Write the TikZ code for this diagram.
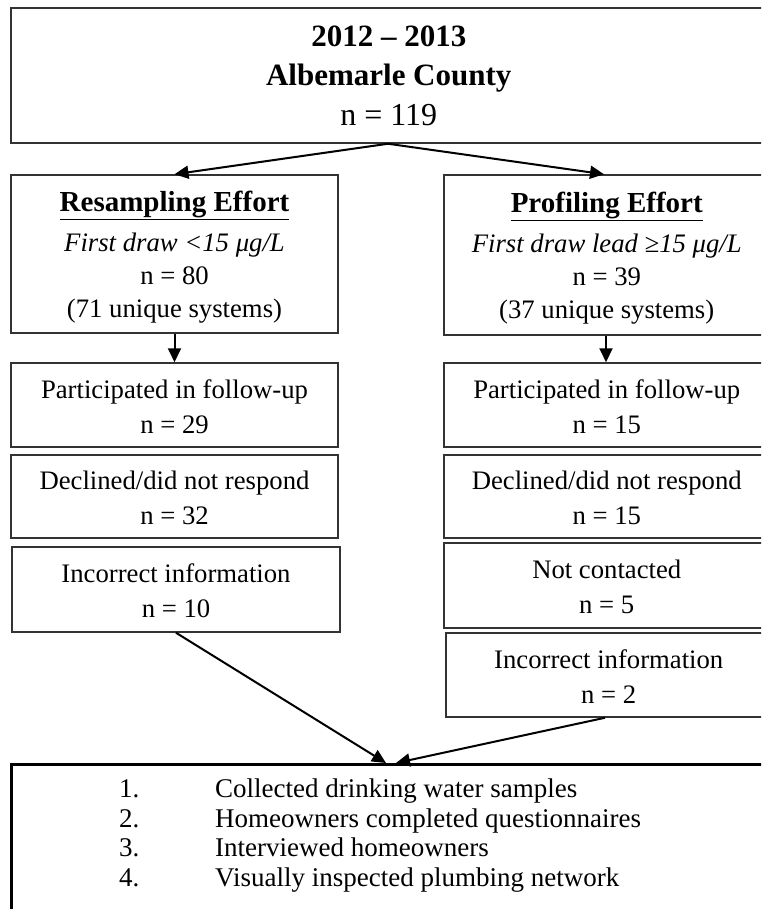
\documentclass[tikz,border=0pt]{standalone}
\usepackage{fontspec}
\setmainfont{Liberation Serif}
\usetikzlibrary{arrows.meta}
\begin{document}
\begin{tikzpicture}[x=1pt,y=-1pt,
  box/.style={draw=black!80,line width=1.5pt,align=center,inner sep=0pt,
    font=\fontsize{26.7}{35}\selectfont},
  rbox/.style={draw=black!80,line width=1.5pt,inner sep=0pt,anchor=west,
    minimum width=400pt,font=\fontsize{26.7}{35}\selectfont},
  arr/.style={line width=2pt,-{Triangle[length=14pt,width=13pt]}}]
\useasboundingbox (0,0) rectangle (761,909);
\clip (0,0) rectangle (761,909);
\fill[white] (0,0) rectangle (761,909);
% top box (runs past the right edge)
\node[rbox,minimum width=800pt,minimum height=135pt,font=\fontsize{31}{39.5}\selectfont] (top) at (10,75.5)
  {\parbox{756pt}{\centering\bfseries 2012 – 2013\\ Albemarle County\\ \mdseries\fontsize{32}{39.5}\selectfont n = 119}\hspace*{44pt}};
% effort boxes
\node[box,minimum width=327pt,minimum height=158pt,font=\fontsize{26.7}{33}\selectfont] (rs) at (174.5,254)
  {\rule{0pt}{26pt}{\fontsize{29}{33}\selectfont\bfseries\underline{Resampling Effort}}\\[7pt]
   \itshape First draw <15 μg/L\\ n = 80\\ (71 unique systems)};
\node[rbox,minimum height=160pt,font=\fontsize{26.7}{33}\selectfont] (pf) at (443,255)
  {\parbox{326pt}{\centering\rule{0pt}{26pt}{\fontsize{29}{33}\selectfont\bfseries\underline{Profiling Effort}}\\[7pt]
   {\itshape First draw lead ≥15 μg/L}\\ n = 39\\ (37 unique systems)}\hspace*{74pt}};
% left column
\node[box,minimum width=327pt,minimum height=84pt] (lp) at (174.5,405)
  {\rule{0pt}{22pt}Participated in follow-up\\ n = 29};
\node[box,minimum width=327pt,minimum height=83pt] (ld) at (174.5,496.5)
  {\rule{0pt}{22pt}Declined/did not respond\\ n = 32};
\node[box,minimum width=328pt,minimum height=85pt] (li) at (176,589.5)
  {\rule{0pt}{22pt}Incorrect information\\ n = 10};
% right column (runs past the right edge)
\node[rbox,minimum height=84pt] (rp) at (443,405)
  {\parbox{326pt}{\centering\rule{0pt}{22pt}Participated in follow-up\\ n = 15}\hspace*{74pt}};
\node[rbox,minimum height=83pt] (rd) at (443,496.5)
  {\parbox{326pt}{\centering\rule{0pt}{22pt}Declined/did not respond\\ n = 15}\hspace*{74pt}};
\node[rbox,minimum height=85pt] (rn) at (443,585.5)
  {\parbox{326pt}{\centering\rule{0pt}{22pt}Not contacted\\ n = 5}\hspace*{74pt}};
\node[rbox,minimum height=84pt] (ri) at (445,675)
  {\parbox{326pt}{\centering\rule{0pt}{22pt}Incorrect information\\ n = 2}\hspace*{74pt}};
% bottom box
\node[draw=black,line width=2.5pt,minimum width=900pt,minimum height=167pt,inner sep=0pt,anchor=north west] (bot) at (10,763) {};
\node[anchor=north west,inner sep=0pt,font=\fontsize{27}{29.5}\selectfont] (list) at (119,777)
  {\begin{tabular}{@{}p{96pt}@{}l@{}}
   1. & Collected drinking water samples\\
   2. & Homeowners completed questionnaires\\
   3. & Interviewed homeowners\\
   4. & Visually inspected plumbing network
   \end{tabular}};
% connectors
\draw[arr] ([xshift=378pt]top.south west) -- (rs.north);
\draw[arr] ([xshift=378pt]top.south west) -- ([xshift=161pt]pf.north west);
\draw[arr] (rs.south) -- (lp.north);
\draw[arr] ([xshift=163pt]pf.south west) -- ([xshift=163pt]rp.north west);
\draw[arr] (li.south) -- ([xshift=376pt]bot.north west);
\draw[arr] ([xshift=160pt]ri.south west) -- ([xshift=386pt]bot.north west);
\end{tikzpicture}
\end{document}
